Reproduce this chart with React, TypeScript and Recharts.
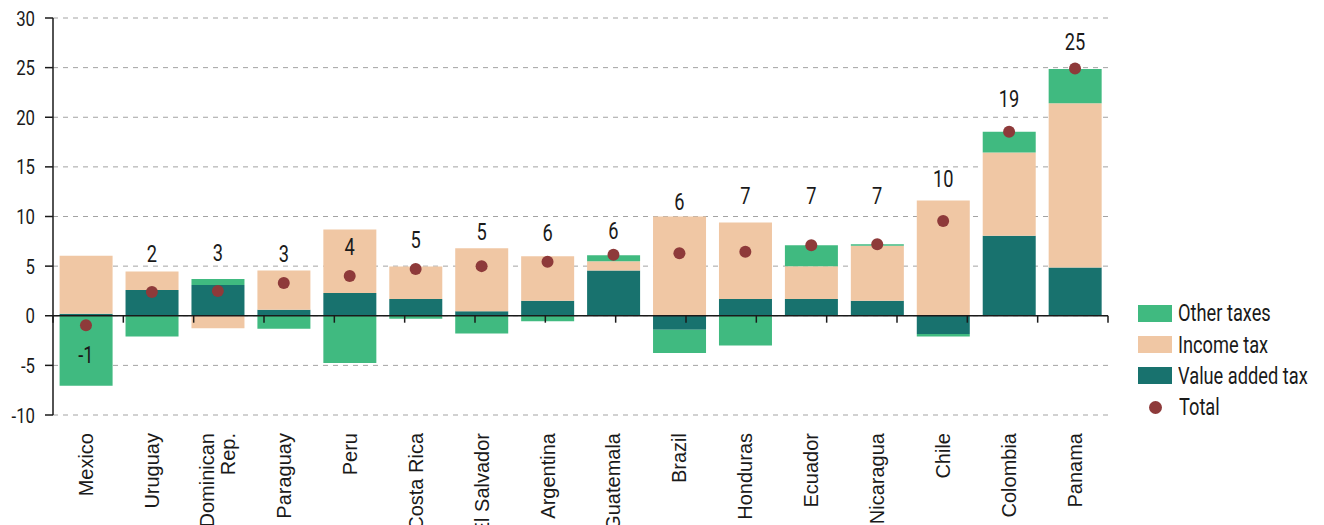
import React from "react";
import {
  ComposedChart, Bar, Line, XAxis, YAxis, CartesianGrid, ReferenceLine, LabelList,
} from "recharts";

// Tax revenue change by component, % points
const COUNTRIES = [
  "Mexico", "Uruguay", "Dominican\nRep.", "Paraguay", "Peru", "Costa Rica", "El Salvador", "Argentina",
  "Guatemala", "Brazil", "Honduras", "Ecuador", "Nicaragua", "Chile", "Colombia", "Panama",
];
const VAT = [0.2, 2.6, 3.1, 0.6, 2.3, 1.7, 0.45, 1.5, 4.55, -1.4, 1.7, 1.7, 1.5, -1.85, 8.05, 4.85];
const INCOME = [5.85, 1.85, -1.25, 3.95, 6.4, 3.25, 6.35, 4.5, 0.95, 10.0, 7.7, 3.3, 5.55, 11.6, 8.4, 16.55];
const OTHER = [-7.05, -2.1, 0.6, -1.3, -4.75, -0.3, -1.8, -0.55, 0.6, -2.35, -3.0, 2.1, 0.15, -0.25, 2.1, 3.45];
const TOTAL = [-0.95, 2.4, 2.5, 3.3, 4.0, 4.7, 5.0, 5.45, 6.15, 6.3, 6.45, 7.1, 7.2, 9.55, 18.55, 24.9];
const TOTAL_LABEL = [-1, 2, 3, 3, 4, 5, 5, 6, 6, 6, 7, 7, 7, 10, 19, 25];
// where each total label sits, in axis units
const LABEL_AT = [-3.9, 6.3, 6.4, 6.3, 7.0, 7.7, 8.5, 8.4, 8.6, 11.5, 12.1, 12.1, 12.1, 13.8, 21.9, 27.6];
const Y_TICKS = [-10, -5, 0, 5, 10, 15, 20, 25, 30];
const BOUNDS = Array.from({ length: COUNTRIES.length + 1 }, (_, i) => i);

const C_VAT = "#18726e";
const C_INCOME = "#f0c7a4";
const C_OTHER = "#40ba80";
const C_TOTAL = "#8e3a3a";
const INK = "#1a1a1a";
// no condensed face installed, so Roboto is squeezed horizontally
const NARROW = "Roboto, 'Liberation Sans', sans-serif";
const SANS = "'Liberation Sans', Arial, sans-serif";

const data = COUNTRIES.map((name, i) => ({
  name, vat: VAT[i], income: INCOME[i], other: OTHER[i], total: TOTAL[i],
  label: TOTAL_LABEL[i], labelAt: LABEL_AT[i],
}));

function Narrow({ x, y, text, size, anchor, squeeze }: any) {
  return (
    <g transform={`translate(${x},${y}) scale(${squeeze},1)`}>
      <text x={0} y={0} dy="0.35em" textAnchor={anchor} fill={INK} fontSize={size} fontFamily={NARROW} fontWeight={400}>
        {text}
      </text>
    </g>
  );
}

function YTick({ x, y, payload }: any) {
  return <Narrow x={x} y={y + 0.5} text={payload.value} size={20} anchor="end" squeeze={0.84} />;
}

function TotalLabel(props: any) {
  const vb = props.viewBox || {};
  const cx = (props.x ?? vb.x) + (vb.width || 0) / 2;
  const cy = (props.y ?? vb.y) + (vb.height || 0) / 2;
  return <Narrow x={cx} y={cy} text={props.value} size={24} anchor="middle" squeeze={0.76} />;
}

function CountryTick({ x, y, payload }: any) {
  const lines = String(payload.value).split("\n");
  const shift = (lines.length - 1) / 2;
  return (
    <g transform={`translate(${x},${y + 18})`}>
      <text transform="rotate(-90)" textAnchor="end" fill={INK} fontSize={20} fontFamily={SANS}>
        {lines.map((l, k) => (
          <tspan key={k} x={0} y={0} dy={`${0.35 + (k - shift) * 1.05}em`}>{l}</tspan>
        ))}
      </text>
    </g>
  );
}

const LEGEND = [
  { label: "Other taxes", color: C_OTHER, dot: false },
  { label: "Income tax", color: C_INCOME, dot: false },
  { label: "Value added tax", color: C_VAT, dot: false },
  { label: "Total", color: C_TOTAL, dot: true },
];

export default function App() {
  return (
    <div style={{ position: "absolute", left: 0, top: 0, width: 1324, height: 525, background: "#fff" }}>
      <ComposedChart
        width={1324} height={525} data={data} stackOffset="sign" barCategoryGap="10%"
        margin={{ top: 18, right: 216, bottom: 0, left: 0 }}
      >
        <CartesianGrid vertical={false} stroke="#a3a3a3" strokeDasharray="5 5" xAxisId="cat" />
        <XAxis
          xAxisId="grid" type="number" domain={[0, COUNTRIES.length]} ticks={BOUNDS} tick={false}
          tickLine={{ stroke: INK, strokeWidth: 1.5 }} tickSize={8} axisLine={false} height={0} allowDataOverflow
        />
        <XAxis
          xAxisId="cat" dataKey="name" interval={0} tickLine={false} axisLine={false}
          tickSize={0} tickMargin={0} height={110} tick={<CountryTick />}
        />
        <YAxis
          domain={[-10, 30]} ticks={Y_TICKS} width={53} interval={0}
          axisLine={{ stroke: INK, strokeWidth: 1.5 }} tickLine={{ stroke: INK, strokeWidth: 1.5 }}
          tickSize={8} tickMargin={10} tick={<YTick />}
        />
        <Bar xAxisId="cat" dataKey="vat" stackId="a" fill={C_VAT} isAnimationActive={false} />
        <Bar xAxisId="cat" dataKey="income" stackId="a" fill={C_INCOME} isAnimationActive={false} />
        <Bar xAxisId="cat" dataKey="other" stackId="a" fill={C_OTHER} isAnimationActive={false} />
        <ReferenceLine xAxisId="cat" y={0} stroke={INK} strokeWidth={1.5} />
        {BOUNDS.map((b) => (
          <ReferenceLine
            key={b} xAxisId="grid" stroke={INK} strokeWidth={1.5}
            segment={[{ x: b, y: 0 }, { x: b, y: -0.7 }]}
          />
        ))}
        <Line
          xAxisId="cat" dataKey="total" stroke="none" isAnimationActive={false} activeDot={false}
          dot={{ r: 6, fill: C_TOTAL, stroke: "none" }}
        />
        <Line xAxisId="cat" dataKey="labelAt" stroke="none" dot={false} activeDot={false} isAnimationActive={false}>
          <LabelList dataKey="label" position="center" content={<TotalLabel />} />
        </Line>
      </ComposedChart>
      <div style={{ position: "absolute", left: 1138, top: 297.5, fontFamily: NARROW, fontWeight: 400, fontSize: 24, color: INK }}>
        {LEGEND.map((it) => (
          <div key={it.label} style={{ display: "flex", alignItems: "center", height: 31.4 }}>
            {it.dot ? (
              <div style={{ width: 34, display: "flex", justifyContent: "center" }}>
                <div style={{ width: 13, height: 13, borderRadius: 6.5, background: it.color }} />
              </div>
            ) : (
              <div style={{ width: 34, height: 17, background: it.color }} />
            )}
            <span
              style={{
                marginLeft: it.dot ? 7 : 6, whiteSpace: "nowrap", display: "inline-block",
                transform: "scaleX(0.76)", transformOrigin: "left center",
              }}
            >
              {it.label}
            </span>
          </div>
        ))}
      </div>
    </div>
  );
}
